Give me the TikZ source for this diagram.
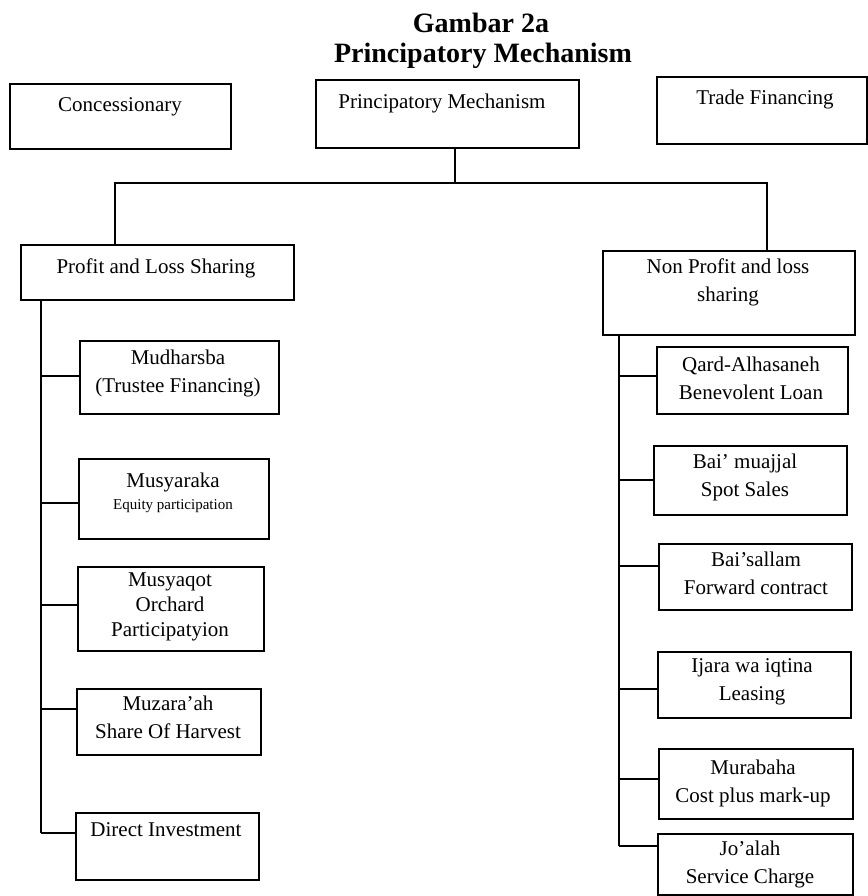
\documentclass[tikz,border=0pt]{standalone}
\usepackage{fontspec}
\setmainfont{Liberation Serif}
\newcommand\mkbox[5]{\node[boxst, anchor=north west, minimum width={(#4-#2)*1pt}, minimum height={(#5-#3)*1pt}] (#1) at (#2,#3) {};}
\begin{document}
\begin{tikzpicture}[x=1pt,y=-1pt,
  boxst/.style={draw, line width=2pt, inner sep=0pt},
  txt/.style={align=center, inner sep=0pt, font=\fontsize{21}{28}\selectfont},
  ttl/.style={inner sep=0pt, font=\fontsize{28}{30}\selectfont\bfseries},
  conn/.style={line width=2pt}]
\useasboundingbox (0,0) rectangle (867,896);

% titles
\node[ttl] (t1) at (481,23) {Gambar 2a};
\node[ttl] (t2) at (483,56) {Principatory Mechanism};

% top row
\mkbox{conc}{9}{83}{230}{148}
\mkbox{pm}{315}{79}{578}{147}
\mkbox{trade}{656}{76}{866}{143}
\node[txt] (conct) at (120,107) {Concessionary};
\node[txt] (pmt) at (442,103) {Principatory Mechanism};
\node[txt] (tradet) at (765,99) {Trade Financing};

% second level
\mkbox{prof}{20}{244}{293}{299}
\mkbox{np}{602}{250}{854}{334}
\node[txt] (proft) at (156,268) {Profit and Loss Sharing};
\node[txt] (npt) at (728,282) {Non Profit and loss\\sharing};

% left column
\mkbox{mud}{79}{340}{278}{413}
\mkbox{mus}{78}{458}{268}{538}
\mkbox{msq}{77}{566}{263}{650}
\mkbox{mzr}{76}{688}{260}{754}
\mkbox{dir}{75}{812}{258}{879}
\node[txt] (mudt) at (178,373) {Mudharsba\\(Trustee Financing)};
\node[txt] (must1) at (173,482) {Musyaraka};
\node[txt, font=\fontsize{15}{18}\selectfont] (must2) at (173,506) {Equity participation};
\node[txt, font=\fontsize{21}{25}\selectfont] (msqt) at (170,607) {Musyaqot\\Orchard\\Participatyion};
\node[txt] (mzrt) at (168,717) {Muzara’ah\\Share Of Harvest};
\node[txt] (dirt) at (166,830) {Direct Investment};

% right column
\mkbox{qard}{656}{346}{847}{413}
\mkbox{bmu}{653}{445}{846}{514}
\mkbox{bsa}{658}{543}{851}{609}
\mkbox{ija}{657}{651}{850}{717}
\mkbox{mur}{658}{748}{852}{818}
\mkbox{joa}{657}{833}{852}{894}
\node[txt] (qardt) at (751,378) {Qard-Alhasaneh\\Benevolent Loan};
\node[txt] (bmut) at (745,477) {Bai’ muajjal\\Spot Sales};
\node[txt] (bsat) at (756,573) {Bai’sallam\\Forward contract};
\node[txt] (ijat) at (752,682) {Ijara wa iqtina\\Leasing};
\node[txt] (murt) at (753,783) {Murabaha\\Cost plus mark-up};
\node[txt] (joat) at (750,864) {Jo’alah\\Service Charge};

% connectors: top
\coordinate (busL) at (115,183);
\coordinate (busR) at (767,183);
\coordinate (pmdrop) at ([xshift=7.5pt]pm.south);
\draw[conn] (pmdrop) -- (pmdrop |- busL);
\draw[conn] (busL |- prof.north) -- (busL) -- (busR) -- (busR |- np.north);

% left spine
\coordinate (sL) at ([xshift=21pt]prof.south west);
\coordinate (brL1) at ([yshift=1.5pt]mud.west);
\coordinate (brL2) at ([yshift=-4pt]mus.west);
\coordinate (brL3) at ([yshift=4pt]msq.west);
\coordinate (brL4) at ([yshift=13pt]mzr.west);
\coordinate (brL5) at ([yshift=13.5pt]dir.west);
\draw[conn] (sL) -- (sL |- brL5);
\foreach \b in {brL1,brL2,brL3,brL4,brL5}
  \draw[conn] (sL |- \b) -- (\b);

% right spine
\coordinate (sR) at ([xshift=17pt]np.south west);
\coordinate (brR1) at ([yshift=4.5pt]qard.west);
\coordinate (brR2) at ([yshift=0.5pt]bmu.west);
\coordinate (brR3) at ([yshift=11pt]bsa.west);
\coordinate (brR4) at ([yshift=-4pt]ija.west);
\coordinate (brR5) at ([yshift=5pt]mur.west);
\coordinate (brR6) at ([yshift=18.5pt]joa.west);
\draw[conn] (sR) -- (sR |- brR6);
\foreach \b in {brR1,brR2,brR3,brR4,brR5,brR6}
  \draw[conn] (sR |- \b) -- (\b);
\end{tikzpicture}
\end{document}
